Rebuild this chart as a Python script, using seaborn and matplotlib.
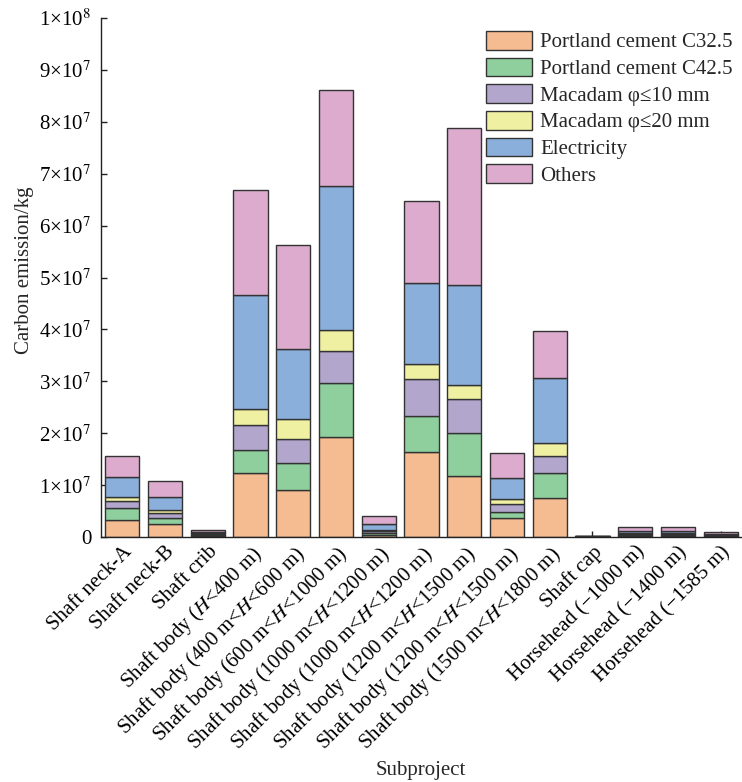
import numpy as np
import pandas as pd
import matplotlib
matplotlib.use("Agg")
import matplotlib.pyplot as plt
from matplotlib.patches import Patch
from matplotlib.ticker import FixedLocator
import matplotlib.transforms as mtransforms
import seaborn as sns

categories = [
    "Shaft neck-A", "Shaft neck-B", "Shaft crib",
    "Shaft body ($H$<400 m)",
    "Shaft body (400 m<$H$<600 m)",
    "Shaft body (600 m<$H$<1000 m)",
    "Shaft body (1000 m<$H$<1200 m)",
    "Shaft body (1000 m<$H$<1200 m) ",
    "Shaft body (1200 m<$H$<1500 m)",
    "Shaft body (1200 m<$H$<1500 m) ",
    "Shaft body (1500 m<$H$<1800 m)",
    "Shaft cap",
    "Horsehead (\u22121000 m)",
    "Horsehead (\u22121400 m)",
    "Horsehead (\u22121585 m)",
]
series_names = ["Portland cement C32.5", "Portland cement C42.5",
                "Macadam \u03c6\u226410 mm", "Macadam \u03c6\u226420 mm",
                "Electricity", "Others"]
# values in units of 1e7 kg
cement_c325 = [0.32, 0.245, 0.025, 1.23, 0.91, 1.92, 0.03, 1.64, 1.17, 0.36, 0.76, 0.005, 0.02, 0.02, 0.01]
cement_c425 = [0.237, 0.116, 0.02, 0.44, 0.51, 1.04, 0.05, 0.69, 0.83, 0.13, 0.47, 0.004, 0.015, 0.015, 0.01]
macadam_10 = [0.129, 0.108, 0.02, 0.49, 0.46, 0.63, 0.03, 0.71, 0.65, 0.14, 0.34, 0.004, 0.02, 0.02, 0.01]
macadam_20 = [0.077, 0.052, 0.01, 0.31, 0.39, 0.39, 0.03, 0.30, 0.28, 0.11, 0.25, 0.003, 0.015, 0.015, 0.01]
electricity = [0.397, 0.245, 0.03, 2.20, 1.35, 2.78, 0.12, 1.55, 1.93, 0.40, 1.24, 0.004, 0.05, 0.05, 0.025]
others = [0.405, 0.314, 0.03, 2.01, 2.01, 1.85, 0.14, 1.58, 3.03, 0.47, 0.90, 0.003, 0.07, 0.07, 0.025]
series_values = [cement_c325, cement_c425, macadam_10, macadam_20, electricity, others]
colors = ["#F5BB91", "#8ECF9D", "#B3A6CD", "#F0F0A2", "#8AAFDB", "#DCABCE"]
ytick_values = [i * 1e7 for i in range(11)]
ytick_labels = ["0"] + ["%d\u00d710$^{7}$" % i for i in range(1, 10)] + ["1\u00d710$^{8}$"]

sns.set_style("ticks")
plt.rcParams["font.family"] = ["Liberation Serif", "DejaVu Serif"]
plt.rcParams["mathtext.fontset"] = "stix"

FS = 15
fig = plt.figure(figsize=(7.42, 7.82), dpi=100)
ax = fig.add_axes([101 / 742, 1 - 537 / 782, 641 / 742, 519 / 782])

bottom = np.zeros(len(categories))
for name, vals, col in zip(series_names, series_values, colors):
    v = np.array(vals) * 1e7
    df = pd.DataFrame({"cat": categories, "val": v})
    sns.barplot(data=df, x="cat", y="val", order=categories, bottom=bottom,
                color=col, edgecolor="#333333", linewidth=1.0, width=0.8,
                saturation=1, ax=ax, errorbar=None)
    bottom = bottom + v

ax.set_xlim(-0.5, 14.5)
ax.set_ylim(0, 1e8)
ax.yaxis.set_major_locator(FixedLocator(ytick_values))
ax.set_yticklabels(ytick_labels, fontsize=FS)
ax.set_xticks(range(len(categories)))
ax.set_xticklabels([c.strip() for c in categories], rotation=45, ha="right",
                   rotation_mode="anchor", fontsize=FS)
offset = mtransforms.ScaledTranslation(10 / 100, 0, fig.dpi_scale_trans)
for lbl in ax.get_xticklabels():
    lbl.set_transform(lbl.get_transform() + offset)
ax.tick_params(axis="x", direction="in", length=4, width=1, pad=4, colors="#222222", labelcolor="black")
ax.tick_params(axis="y", direction="in", length=4, width=1, pad=7, colors="#222222", labelcolor="black")
for s in ["top", "right"]:
    ax.spines[s].set_visible(False)
for s in ["left", "bottom"]:
    ax.spines[s].set_linewidth(1.0)
    ax.spines[s].set_color("#222222")

ax.set_ylabel("")
ax.set_xlabel("")
fig.text(25 / 742, 1 - 270 / 782, "Carbon emission/kg", rotation=90, ha="center", va="center", fontsize=FS)
fig.text(421 / 742, 1 - 770 / 782, "Subproject", ha="center", va="center", fontsize=FS)

handles = [Patch(facecolor=c, edgecolor="#333333", linewidth=1.0) for c in colors]
leg = fig.legend(handles, series_names, loc="upper left",
                 bbox_to_anchor=(486 / 742, 1 - 31 / 782), bbox_transform=fig.transFigure,
                 frameon=False, fontsize=FS, handlelength=2.2, handleheight=1.0,
                 labelspacing=0.25, handletextpad=0.4, borderpad=0, borderaxespad=0)

fig.savefig("out.png", dpi=100)
